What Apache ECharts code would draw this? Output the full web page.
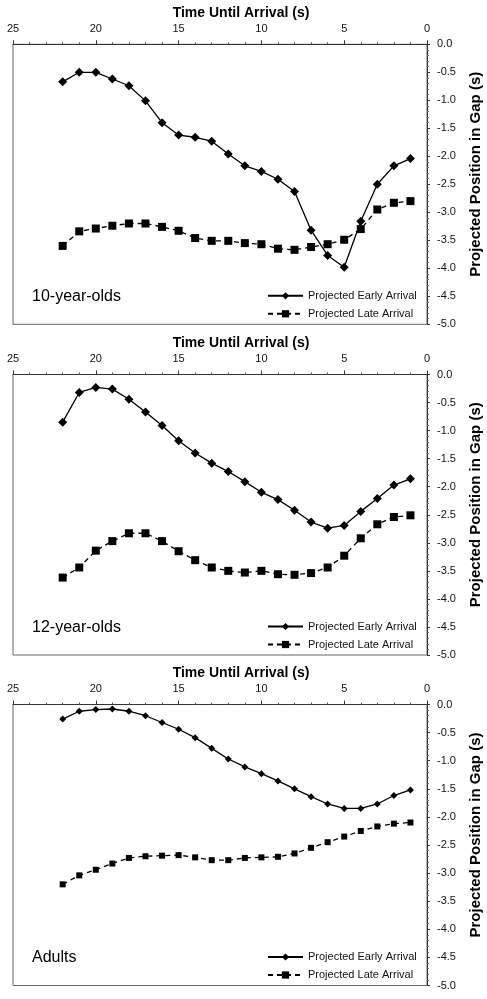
<!DOCTYPE html>
<html>
<head>
<meta charset="utf-8">
<script src="https://cdn.jsdelivr.net/npm/echarts@6/dist/echarts.min.js"></script>
<style>
html,body{margin:0;padding:0;background:#fff;}
#c{width:487px;height:999px;}
</style>
</head>
<body>
<div id="c"></div>
<script>
const times = [22,21,20,19,18,17,16,15,14,13,12,11,10,9,8,7,6,5,4,3,2,1];
const early10 = [-0.67,-0.50,-0.50,-0.62,-0.74,-1.01,-1.40,-1.62,-1.66,-1.73,-1.96,-2.17,-2.27,-2.41,-2.63,-3.32,-3.77,-3.98,-3.16,-2.50,-2.17,-2.04];
const late10  = [-3.60,-3.34,-3.29,-3.24,-3.20,-3.20,-3.26,-3.33,-3.46,-3.51,-3.51,-3.55,-3.57,-3.65,-3.67,-3.62,-3.57,-3.49,-3.30,-2.95,-2.83,-2.80];
const early12 = [-0.85,-0.32,-0.23,-0.26,-0.44,-0.67,-0.91,-1.18,-1.40,-1.58,-1.73,-1.91,-2.10,-2.23,-2.42,-2.63,-2.74,-2.69,-2.44,-2.21,-1.97,-1.86];
const late12  = [-3.62,-3.44,-3.14,-2.97,-2.83,-2.83,-2.97,-3.15,-3.31,-3.44,-3.50,-3.53,-3.50,-3.56,-3.57,-3.54,-3.44,-3.23,-2.92,-2.67,-2.54,-2.51];
const earlyAd = [-0.26,-0.12,-0.09,-0.08,-0.12,-0.20,-0.32,-0.44,-0.59,-0.78,-0.97,-1.11,-1.23,-1.36,-1.50,-1.64,-1.77,-1.85,-1.85,-1.77,-1.62,-1.52];
const lateAd  = [-3.20,-3.04,-2.94,-2.83,-2.73,-2.70,-2.69,-2.68,-2.72,-2.77,-2.77,-2.73,-2.72,-2.71,-2.65,-2.55,-2.45,-2.35,-2.25,-2.17,-2.12,-2.10];
const panelLabels = ['10-year-olds','12-year-olds','Adults'];
const seriesNames = ['Projected Early Arrival','Projected Late Arrival'];
const xTitle = 'Time Until Arrival (s)';
const yTitle = 'Projected Position in Gap (s)';

const panels = [
  {early: early10, late: late10, top: 44.3, h: 280, dia: 9, sq: 8},
  {early: early12, late: late12, top: 374.5, h: 280.5, dia: 9, sq: 8},
  {early: earlyAd, late: lateAd, top: 704.5, h: 281, dia: 7, sq: 6}
];
const FONT = '"Liberation Sans", Arial, Helvetica, sans-serif';
const pair = arr => times.map((t,i)=>[t, arr[i]]);

const grid=[], xAxis=[], yAxis=[], series=[], legend=[], graphic=[];
panels.forEach((p, k) => {
  grid.push({left: 13, width: 414, top: p.top, height: p.h, show: true, borderColor: '#666', borderWidth: 1, backgroundColor: 'transparent'});
  xAxis.push({
    type: 'value', gridIndex: k, position: 'top', inverse: true, min: 0, max: 25, interval: 5,
    axisLine: {show: true, lineStyle: {color: '#333', width: 1}},
    axisTick: {show: true, inside: false, length: 4, lineStyle: {color: '#333'}},
    minorTick: {show: true, splitNumber: 5, length: 2, lineStyle: {color: '#555'}},
    splitLine: {show: false},
    axisLabel: {color: '#111', fontSize: 11, fontFamily: FONT, margin: 10}
  });
  yAxis.push({
    type: 'value', gridIndex: k, position: 'right', min: -5, max: 0, interval: 0.5,
    axisLine: {show: true, onZero: false, lineStyle: {color: '#333', width: 1}},
    axisTick: {show: true, inside: false, length: 3, lineStyle: {color: '#333'}},
    minorTick: {show: true, splitNumber: 5, length: 2, lineStyle: {color: '#666'}},
    splitLine: {show: false},
    axisLabel: {color: '#111', fontSize: 11, fontFamily: FONT, margin: 10, formatter: v => v.toFixed(1)}
  });
  series.push({
    name: seriesNames[0], type: 'line', xAxisIndex: k, yAxisIndex: k, data: pair(p.early),
    symbol: 'diamond', symbolSize: p.dia, showAllSymbol: true,
    lineStyle: {color: '#000', width: 1.3}, itemStyle: {color: '#000'}, color: '#000', animation: false
  });
  series.push({
    name: seriesNames[1], type: 'line', xAxisIndex: k, yAxisIndex: k, data: pair(p.late),
    symbol: 'rect', symbolSize: p.sq, showAllSymbol: true,
    lineStyle: {color: '#000', width: 1.3, type: [5, 4]}, itemStyle: {color: '#000'}, color: '#000', animation: false
  });
  const bottom = p.top + p.h;
  legend.push({
    data: seriesNames, orient: 'vertical', left: 267, top: bottom - 34,
    itemWidth: 35, itemHeight: 9, itemGap: 7,
    textStyle: {fontSize: 11, fontFamily: FONT, color: '#111'},
    padding: 0, selectedMode: false
  });
  graphic.push({type: 'text', x: 241, y: p.top - 31, style: {text: xTitle, font: 'bold 14px ' + FONT, fill: '#000', textAlign: 'center', textVerticalAlign: 'middle'}});
  graphic.push({type: 'text', x: 476, y: p.top + p.h/2 - 10, rotation: Math.PI/2, style: {text: yTitle, font: 'bold 15px ' + FONT, fill: '#000', textAlign: 'center', textVerticalAlign: 'middle'}});
  graphic.push({type: 'text', x: 32, y: bottom - 27.5, style: {text: panelLabels[k], font: '16px ' + FONT, fill: '#000', textAlign: 'left', textVerticalAlign: 'middle'}});
});

const chart = echarts.init(document.getElementById('c'), null, {renderer: 'canvas'});
chart.setOption({animation: false, grid, xAxis, yAxis, series, legend, graphic});
</script>
</body>
</html>
